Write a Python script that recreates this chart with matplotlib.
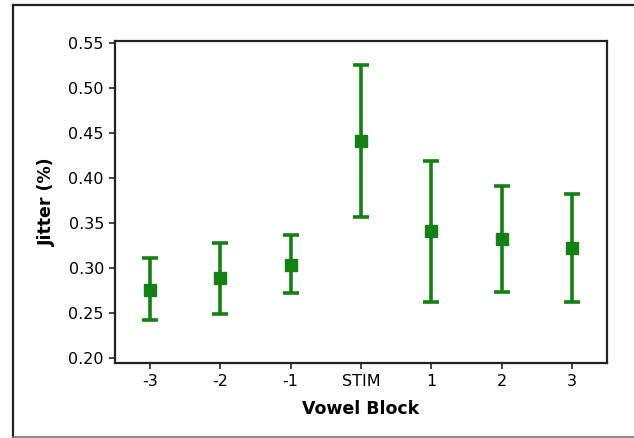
import matplotlib
matplotlib.use("Agg")
import matplotlib.pyplot as plt
from matplotlib.lines import Line2D

# data
blocks = ["-3", "-2", "-1", "STIM", "1", "2", "3"]
jitter_mean = [0.276, 0.289, 0.304, 0.441, 0.341, 0.333, 0.323]
ci_upper = [0.312, 0.328, 0.337, 0.526, 0.419, 0.391, 0.383]
ci_lower = [0.243, 0.249, 0.273, 0.357, 0.263, 0.274, 0.263]

green = "#158015"

fig = plt.figure(figsize=(6.34, 4.38), dpi=100)
ax = fig.add_axes([115 / 634, 1 - 363 / 438, (607 - 115) / 634, (363 - 41) / 438])

x = list(range(len(blocks)))
err_lo = [m - lo for m, lo in zip(jitter_mean, ci_lower)]
err_hi = [hi - m for m, hi in zip(jitter_mean, ci_upper)]
ax.errorbar(x, jitter_mean, yerr=[err_lo, err_hi], fmt="s", color=green,
            markersize=8.5, elinewidth=2.6, capsize=5.5, capthick=2.6)

ax.set_xlim(-0.5, 6.5)
ax.set_ylim(0.195, 0.5525)
ax.set_yticks([0.20, 0.25, 0.30, 0.35, 0.40, 0.45, 0.50, 0.55])
ax.set_yticklabels(["0.20", "0.25", "0.30", "0.35", "0.40", "0.45", "0.50", "0.55"])
ax.set_xticks(x)
ax.set_xticklabels(blocks)
ax.tick_params(labelsize=11.5, length=4, width=1.2, color="#222222", pad=4)

for s in ax.spines.values():
    s.set_linewidth(1.6)
    s.set_color("#222222")

ax.set_xlabel("Vowel Block", fontsize=12.5, fontweight="bold", labelpad=8)
ax.set_ylabel("Jitter (%)", fontsize=12.5, fontweight="bold", labelpad=9)

# outer frame (right side runs past the image)
fig.add_artist(Line2D([13 / 634, 13 / 634], [1 - 5 / 438, 1 - 437 / 438],
                      transform=fig.transFigure, color="#222222", lw=1.6))
fig.add_artist(Line2D([13 / 634, 1], [1 - 5 / 438, 1 - 5 / 438],
                      transform=fig.transFigure, color="#222222", lw=1.6))
fig.add_artist(Line2D([13 / 634, 1], [1 - 437 / 438, 1 - 437 / 438],
                      transform=fig.transFigure, color="#777777", lw=1.2))

fig.savefig("out.png", dpi=100)
